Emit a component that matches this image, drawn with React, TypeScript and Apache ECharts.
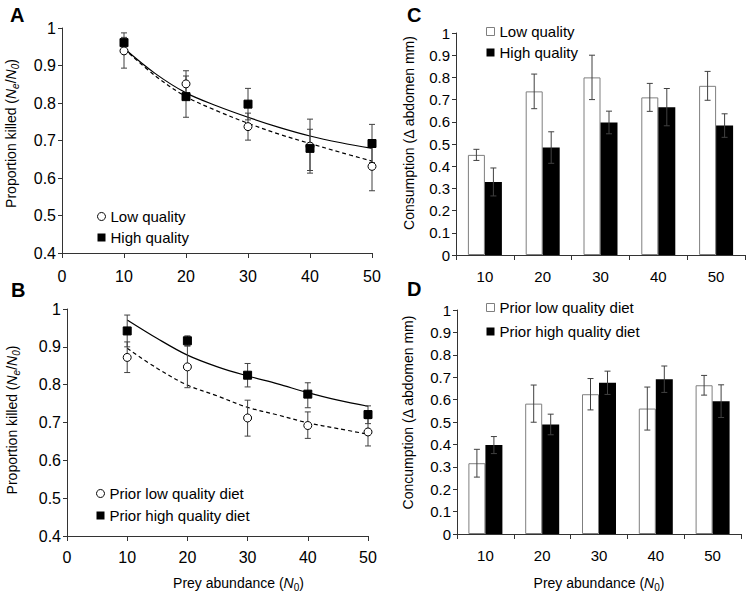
import React, { useEffect, useRef } from "react";
import * as echarts from "echarts";

const FONT = "'Liberation Sans', Arial, sans-serif";

// shared axes
const preyX = [10, 20, 30, 40, 50];
const fitX = [10, 15, 20, 25, 30, 35, 40, 45, 50];
const categories = ["10", "20", "30", "40", "50"];

// Panel A: proportion killed, current diet
const aLow = [0.939, 0.851, 0.737, 0.685, 0.631];
const aLowUpper = [0.975, 0.886, 0.773, 0.73, 0.69];
const aLowLower = [0.893, 0.815, 0.701, 0.62, 0.566];
const aHigh = [0.961, 0.817, 0.797, 0.679, 0.692];
const aHighUpper = [0.987, 0.872, 0.839, 0.757, 0.743];
const aHighLower = [0.935, 0.762, 0.755, 0.613, 0.641];
const aFitHigh = [0.946, 0.879, 0.827, 0.792, 0.762, 0.735, 0.712, 0.694, 0.679];
const aFitLow = [0.945, 0.873, 0.817, 0.779, 0.746, 0.717, 0.692, 0.668, 0.645];

// Panel B: proportion killed, prior diet
const bLow = [0.872, 0.847, 0.712, 0.692, 0.675];
const bLowUpper = [0.913, 0.902, 0.759, 0.728, 0.71];
const bLowLower = [0.832, 0.792, 0.664, 0.658, 0.638];
const bHigh = [0.942, 0.916, 0.825, 0.775, 0.721];
const bHighUpper = [0.984, 0.929, 0.856, 0.805, 0.744];
const bHighLower = [0.9, 0.903, 0.794, 0.739, 0.697];
const bFitHigh = [0.971, 0.922, 0.878, 0.847, 0.823, 0.802, 0.779, 0.759, 0.743];
const bFitLow = [0.896, 0.843, 0.799, 0.77, 0.74, 0.72, 0.699, 0.684, 0.669];

// Panel C: consumption, current diet
const cLow = [0.451, 0.737, 0.8, 0.71, 0.762];
const cLowErr = [0.025, 0.078, 0.1, 0.063, 0.065];
const cHigh = [0.329, 0.484, 0.597, 0.666, 0.583];
const cHighErr = [0.063, 0.071, 0.051, 0.084, 0.053];

// Panel D: consumption, prior diet
const dLow = [0.316, 0.582, 0.624, 0.56, 0.664];
const dLowErr = [0.062, 0.083, 0.07, 0.096, 0.044];
const dHigh = [0.397, 0.489, 0.675, 0.691, 0.593];
const dHighErr = [0.038, 0.046, 0.052, 0.059, 0.073];

const AXIS_COLOR = "#333";
const ERR_COLOR = "#404040";
const BAR_W = 17;

const makeErrRender = (offset: number) => (params: any, api: any) => {
  const x = api.value(0);
  const pLo = api.coord([x, api.value(1)]);
  const pHi = api.coord([x, api.value(2)]);
  const cx = pLo[0] + offset;
  const cap = 3;
  const style = { stroke: ERR_COLOR, lineWidth: 1 };
  return {
    type: "group",
    children: [
      { type: "line", shape: { x1: cx, y1: pLo[1], x2: cx, y2: pHi[1] }, style },
      { type: "line", shape: { x1: cx - cap, y1: pLo[1], x2: cx + cap, y2: pLo[1] }, style },
      { type: "line", shape: { x1: cx - cap, y1: pHi[1], x2: cx + cap, y2: pHi[1] }, style },
    ],
  };
};

const richName = {
  i: { fontStyle: "italic", fontSize: 14, fontFamily: FONT, color: "#000" },
  s: { fontSize: 10, fontFamily: FONT, color: "#000", verticalAlign: "bottom", lineHeight: 11 },
  si: { fontSize: 10, fontStyle: "italic", fontFamily: FONT, color: "#000", verticalAlign: "bottom", lineHeight: 11 },
};

const nameStyle = (padding: number[]) => ({
  fontSize: 14,
  fontFamily: FONT,
  color: "#000",
  lineHeight: 18,
  padding,
  rich: richName,
});

const axisLine = { show: true, lineStyle: { color: AXIS_COLOR, width: 1 } };

const propYAxis = (gridIndex: number, gap: number, pad: number) => ({
  type: "value",
  gridIndex,
  min: 0.4,
  max: 1,
  interval: 0.1,
  axisLine,
  axisTick: { show: true, length: 4, lineStyle: { color: AXIS_COLOR } },
  splitLine: { show: false },
  axisLabel: { fontSize: 16, color: "#000", fontFamily: FONT, margin: 6 },
  name: "Proportion killed ({i|N}{si|e}/{i|N}{si|0})",
  nameLocation: "middle",
  nameRotate: 90,
  nameGap: gap,
  nameTextStyle: nameStyle([0, 0, 0, pad]),
});

const consYAxis = (gridIndex: number, label: string, gap: number, pad: number) => ({
  type: "value",
  gridIndex,
  min: 0,
  max: 1,
  interval: 0.1,
  axisLine,
  axisTick: { show: true, length: 4, lineStyle: { color: AXIS_COLOR } },
  splitLine: { show: false },
  axisLabel: { fontSize: 15, color: "#000", fontFamily: FONT, margin: 6 },
  name: label + " (\u0394 abdomen mm)",
  nameLocation: "middle",
  nameRotate: 90,
  nameGap: gap,
  nameTextStyle: nameStyle([0, 0, 0, pad]),
});

const preyXAxis = (gridIndex: number, margin: number, withName: boolean) => ({
  type: "value",
  gridIndex,
  min: 0,
  max: 50,
  interval: 10,
  axisLine,
  axisTick: { show: true, length: 5, lineStyle: { color: AXIS_COLOR } },
  splitLine: { show: false },
  axisLabel: { fontSize: 16, color: "#000", fontFamily: FONT, margin },
  ...(withName
    ? {
        name: "Prey abundance ({i|N}{s|0})",
        nameLocation: "middle",
        nameGap: 38,
        nameTextStyle: nameStyle([0, 0, 0, 42]),
      }
    : {}),
});

const catXAxis = (gridIndex: number, withName: boolean) => ({
  type: "category",
  gridIndex,
  data: categories,
  boundaryGap: true,
  axisLine,
  axisTick: { show: true, length: 5, alignWithLabel: false, lineStyle: { color: AXIS_COLOR } },
  splitLine: { show: false },
  axisLabel: { fontSize: 15, color: "#000", fontFamily: FONT, margin: 14 },
  ...(withName
    ? {
        name: "Prey abundance ({i|N}{s|0})",
        nameLocation: "middle",
        nameGap: 40,
        nameTextStyle: nameStyle([0, 0, 0, 0]),
      }
    : {}),
});

const pointSeries = (
  idx: number,
  name: string,
  vals: number[],
  upper: number[],
  lower: number[],
  symbol: string,
  fill: string,
  z: number
) => [
  {
    type: "custom",
    xAxisIndex: idx,
    yAxisIndex: idx,
    z: 3,
    silent: true,
    renderItem: makeErrRender(0),
    data: preyX.map((x, i) => [x, lower[i], upper[i]]),
  },
  {
    type: "scatter",
    name,
    xAxisIndex: idx,
    yAxisIndex: idx,
    z,
    symbol,
    symbolSize: 8,
    itemStyle: { color: fill, borderColor: "#000", borderWidth: 1, opacity: 1 },
    data: preyX.map((x, i) => [x, vals[i]]),
  },
];

const fitSeries = (idx: number, vals: number[], dashed: boolean) => ({
  type: "line",
  xAxisIndex: idx,
  yAxisIndex: idx,
  z: 2,
  silent: true,
  smooth: 0.35,
  showSymbol: false,
  symbol: "none",
  lineStyle: { color: "#000", width: 1.2, type: dashed ? [4, 3] : "solid" },
  data: fitX.map((x, i) => [x, vals[i]]),
});

const barPair = (
  idx: number,
  lowName: string,
  highName: string,
  low: number[],
  lowErr: number[],
  high: number[],
  highErr: number[]
) => [
  {
    type: "bar",
    name: lowName,
    xAxisIndex: idx,
    yAxisIndex: idx,
    barWidth: BAR_W,
    barGap: "0%",
    itemStyle: { color: "#fff", borderColor: "#7f7f7f", borderWidth: 1 },
    data: low,
  },
  {
    type: "bar",
    name: highName,
    xAxisIndex: idx,
    yAxisIndex: idx,
    barWidth: BAR_W,
    barGap: "0%",
    itemStyle: { color: "#000" },
    data: high,
  },
  {
    type: "custom",
    xAxisIndex: idx,
    yAxisIndex: idx,
    z: 5,
    silent: true,
    renderItem: makeErrRender(-BAR_W / 2),
    data: low.map((v, i) => [i, v - lowErr[i], v + lowErr[i]]),
  },
  {
    type: "custom",
    xAxisIndex: idx,
    yAxisIndex: idx,
    z: 5,
    silent: true,
    renderItem: makeErrRender(BAR_W / 2),
    data: high.map((v, i) => [i, v - highErr[i], v + highErr[i]]),
  },
];

const legendBase = {
  orient: "vertical",
  padding: 0,
  itemWidth: 8,
  itemHeight: 8,
  selectedMode: false,
  textStyle: { fontSize: 15, color: "#000", fontFamily: FONT },
};

const openCircle = { color: "#fff", borderColor: "#000", borderWidth: 1 };
const blackSquare = { color: "#000", borderWidth: 0 };
const openBox = { color: "#fff", borderColor: "#7f7f7f", borderWidth: 1 };

const letter = (text: string, left: number, top: number) => ({
  type: "text",
  left,
  top,
  style: { text, font: `bold 20px ${FONT}`, fill: "#000" },
});

export default function App() {
  const ref = useRef<HTMLDivElement>(null);
  useEffect(() => {
    if (!ref.current) return;
    const chart = echarts.init(ref.current, undefined, { renderer: "svg" });
    chart.setOption({
      animation: false,
      backgroundColor: "#fff",
      textStyle: { fontFamily: FONT },
      grid: [
        { left: 62, top: 28, width: 310, height: 225 },
        { left: 67, top: 309, width: 301, height: 227 },
        { left: 456, top: 33, width: 289, height: 222 },
        { left: 457, top: 310, width: 284, height: 224 },
      ],
      xAxis: [
        preyXAxis(0, 15, false),
        preyXAxis(1, 13, true),
        catXAxis(2, false),
        catXAxis(3, true),
      ],
      yAxis: [
        propYAxis(0, 42, 14),
        propYAxis(1, 46, 5),
        consYAxis(2, "Consumption", 38, 22),
        consYAxis(3, "Concumption", 40, 19),
      ],
      legend: [
        {
          ...legendBase,
          left: 97,
          top: 209,
          itemGap: 6,
          data: [
            { name: "Low quality", icon: "circle", itemStyle: openCircle },
            { name: "High quality", icon: "rect", itemStyle: blackSquare },
          ],
        },
        {
          ...legendBase,
          left: 96,
          top: 486,
          itemGap: 7,
          data: [
            { name: "Prior low quality diet", icon: "circle", itemStyle: openCircle },
            { name: "Prior high quality diet", icon: "rect", itemStyle: blackSquare },
          ],
        },
        {
          ...legendBase,
          left: 486,
          top: 24,
          itemGap: 6,
          data: [
            { name: "Low quality", icon: "rect", itemStyle: openBox },
            { name: "High quality", icon: "rect", itemStyle: blackSquare },
          ],
        },
        {
          ...legendBase,
          left: 486,
          top: 300,
          itemGap: 9,
          data: [
            { name: "Prior low quality diet", icon: "rect", itemStyle: openBox },
            { name: "Prior high quality diet", icon: "rect", itemStyle: blackSquare },
          ],
        },
      ],
      graphic: [letter("A", 10, 5), letter("B", 11, 280), letter("C", 407, 5), letter("D", 407, 279)],
      series: [
        fitSeries(0, aFitHigh, false),
        fitSeries(0, aFitLow, true),
        ...pointSeries(0, "Low quality", aLow, aLowUpper, aLowLower, "circle", "#fff", 4),
        ...pointSeries(0, "High quality", aHigh, aHighUpper, aHighLower, "rect", "#000", 5),
        fitSeries(1, bFitHigh, false),
        fitSeries(1, bFitLow, true),
        ...pointSeries(1, "Prior low quality diet", bLow, bLowUpper, bLowLower, "circle", "#fff", 4),
        ...pointSeries(1, "Prior high quality diet", bHigh, bHighUpper, bHighLower, "rect", "#000", 5),
        ...barPair(2, "Low quality", "High quality", cLow, cLowErr, cHigh, cHighErr),
        ...barPair(3, "Prior low quality diet", "Prior high quality diet", dLow, dLowErr, dHigh, dHighErr),
      ],
    });
    return () => chart.dispose();
  }, []);
  return (
    <div
      ref={ref}
      style={{ position: "absolute", left: 0, top: 0, width: 749, height: 596, background: "#fff" }}
    />
  );
}
